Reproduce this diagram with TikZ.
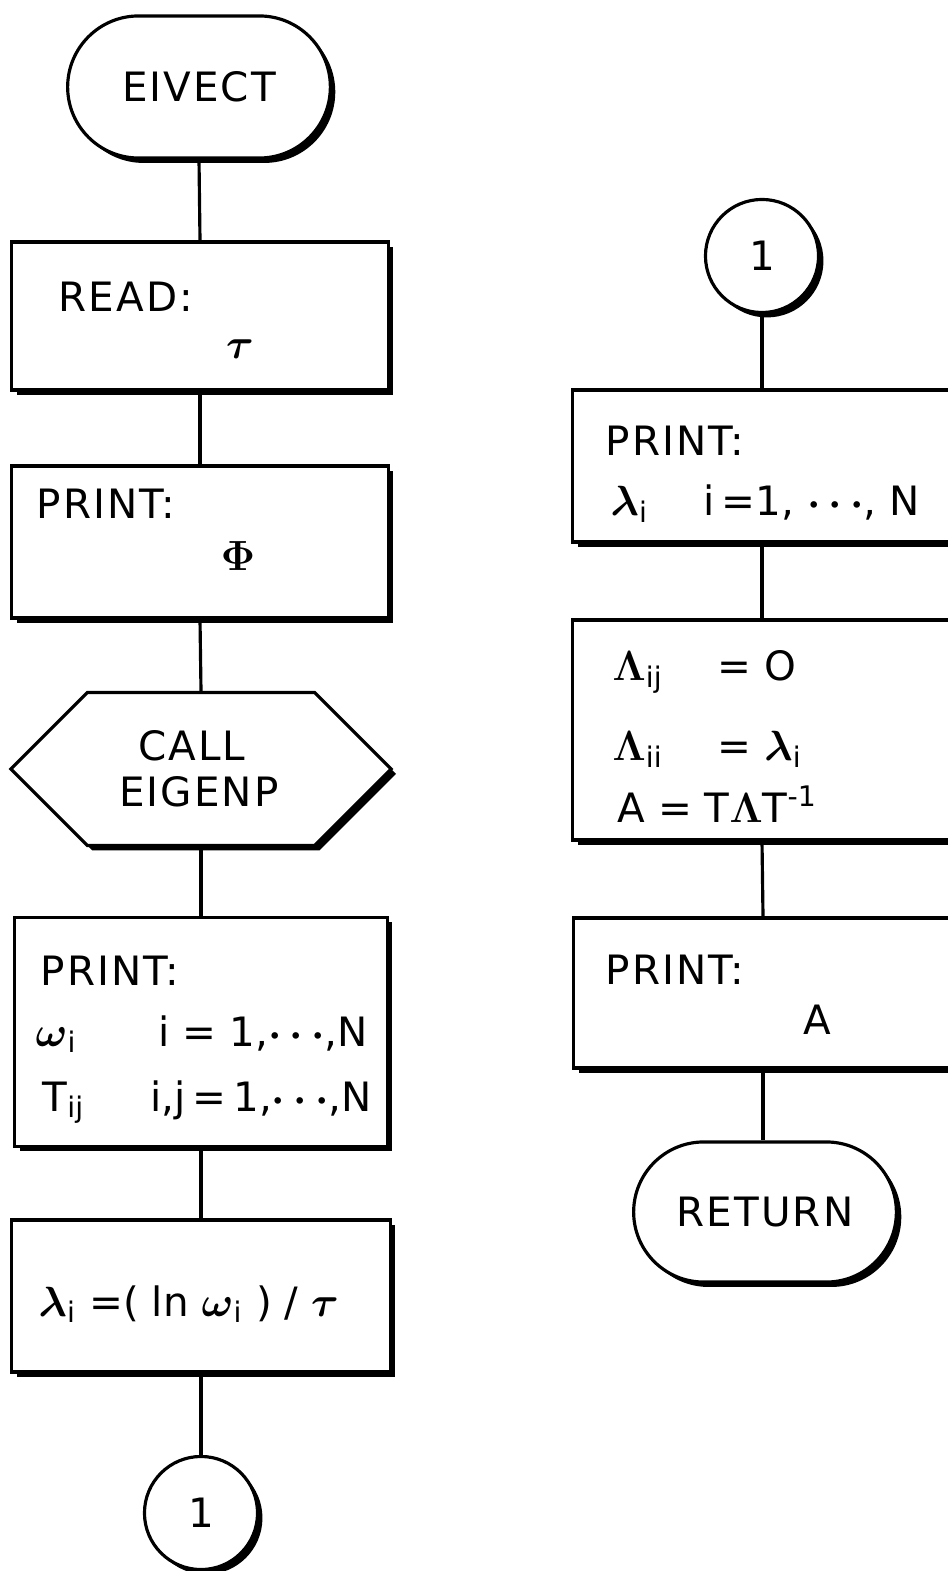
\documentclass[tikz,border=0pt]{standalone}
\usepackage{fontspec}
\setmainfont{DejaVu Sans}[LetterSpace=5]
\usepackage{tikz}
\usetikzlibrary{shapes.misc,shapes.symbols,shadows}

\tikzset{
    blk/.style={draw, fill=white, line width=0.9pt, minimum width=3.76cm,
        general shadow={fill=black, shadow xshift=1.4pt, shadow yshift=-1.4pt}},
    term/.style={blk, rounded rectangle, minimum width=2.86cm, minimum height=1.42cm,
        font=\fontsize{11.5}{14}\selectfont},
    conn/.style={blk, circle, minimum size=1.13cm, inner sep=0pt,
        font=\fontsize{11.5}{14}\selectfont},
    subr/.style={blk, signal, signal to=west and east, signal pointer angle=90,
        minimum width=3.8cm, minimum height=1.53cm},
    txt/.style={inner sep=0pt, font=\fontsize{11.5}{14}\selectfont\boldmath},
    % formulas and index ranges are set without extra letter spacing
    rng/.style={txt, font=\fontsize{11.5}{14}\selectfont\boldmath\addfontfeature{LetterSpace=0}},
    flow/.style={line width=0.9pt},
}

\begin{document}
\begin{tikzpicture}[x=0.01cm, y=-0.01cm]
    \useasboundingbox (0,0) rectangle (947,1571);

    % left column
    \node[term] (eivect) at (199,87) {EIVECT};
    \node[blk, minimum height=1.48cm] (read) at (200,316) {};
    \node[blk, minimum height=1.52cm] (printphi) at (200,542) {};
    \node[subr] (call) at (201,769) {};
    \node[blk, minimum height=2.29cm, minimum width=3.72cm] (printw) at (201,1032) {};
    \node[blk, minimum height=1.52cm, minimum width=3.78cm] (lam) at (201,1296) {};
    \node[conn] (con1) at (201,1513) {1};

    % right column
    \node[conn] (con2) at (762,256) {1};
    \node[blk, minimum height=1.52cm, minimum width=3.78cm] (printl) at (762,466) {};
    \node[blk, minimum height=2.20cm, minimum width=3.78cm] (matA) at (762,730) {};
    \node[blk, minimum height=1.50cm, minimum width=3.78cm] (printA) at (763,993) {};
    \node[term, minimum height=1.40cm] (ret) at (765,1212) {RETURN};

    % texts in the blocks
    \node[txt, anchor=base west] (readlbl) at (58,312) {READ:};
    \node[txt, anchor=base] (readtau) at (240,359) {$\tau$};
    \node[txt, anchor=base west] (phillbl) at (36,519) {PRINT:};
    \node[txt, anchor=base] (phi) at (238,571) {$\Phi$};
    \node[txt, anchor=base] (calllbl) at (192,760) {CALL};
    \node[txt, anchor=base] (eigenp) at (199,806) {EIGENP};
    \node[txt, anchor=base west] (wlbl) at (40,985) {PRINT:};
    \node[rng, anchor=base west] (omega) at (35,1046) {$\omega$\textsubscript{i}};
    \node[rng, anchor=base west] (omegarng) at (158,1046) {i = 1,$\cdots$,N};
    \node[rng, anchor=base west] (tmat) at (42,1111) {T\textsubscript{ij}};
    \node[rng, anchor=base west] (tmatrng) at (150,1111) {i,j\,=\,1,$\cdots$,N};
    \node[rng, anchor=base west] (lameq) at (38,1316)
        {$\lambda$\textsubscript{i} =( ln $\omega$\textsubscript{i} ) / $\tau$};

    \node[txt, anchor=base west] (llbl) at (605,456) {PRINT:};
    \node[rng, anchor=base west] (lami) at (610,516) {$\lambda$\textsubscript{i}};
    \node[rng, anchor=base west] (lamrng) at (703,516) {i\,=1, $\cdots$, N};
    \node[rng, anchor=base west] (bigl1) at (612,681) {$\Lambda$\textsubscript{ij}};
    \node[rng, anchor=base west] (bigl1v) at (717,681) {= O};
    \node[rng, anchor=base west] (bigl2) at (612,761) {$\Lambda$\textsubscript{ii}};
    \node[rng, anchor=base west] (bigl2v) at (717,761) {= $\lambda$\textsubscript{i}};
    \node[rng, anchor=base west] (aeq) at (617,822) {A = T$\Lambda$T\textsuperscript{-1}};
    \node[txt, anchor=base west] (albl) at (605,984) {PRINT:};
    \node[txt, anchor=base] (aval) at (817,1034) {A};

    % flow lines
    \draw[flow] (eivect.south) -- (read.north);
    \draw[flow] (read.south) -- (printphi.north);
    \draw[flow] (printphi.south) -- (call.north);
    \draw[flow] (call.south) -- (printw.north);
    \draw[flow] (printw.south) -- (lam.north);
    \draw[flow] (lam.south) -- (con1.north);
    \draw[flow] (con2.south) -- (printl.north);
    \draw[flow] (printl.south) -- (matA.north);
    \draw[flow] (matA.south) -- (printA.north);
    \draw[flow] (printA.south) -- (printA.south |- ret.north);
\end{tikzpicture}
\end{document}
